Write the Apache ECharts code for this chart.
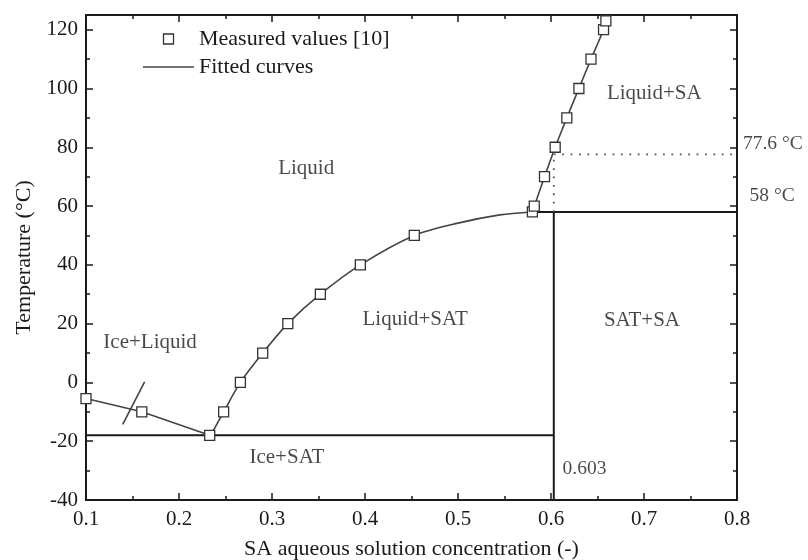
<!DOCTYPE html>
<html>
<head>
<meta charset="utf-8">
<script src="https://cdn.jsdelivr.net/npm/echarts@6/dist/echarts.min.js"></script>
<style>html,body{margin:0;padding:0;background:#fff}#c{width:808px;height:560px}</style>
</head>
<body>
<div id="c"></div>
<script>
// Measured values [10]
const measuredX = [0.1, 0.16, 0.233, 0.248, 0.266, 0.29, 0.317, 0.352, 0.395, 0.453, 0.58, 0.582, 0.593, 0.6045, 0.617, 0.63, 0.643, 0.6565, 0.659];
const measuredT = [-5.5, -10, -18, -10, 0, 10, 20, 30, 40, 50, 58, 60, 70, 80, 90, 100, 110, 120, 123];
// Fitted curves
const iceCurveX = [0.1, 0.16, 0.233];
const iceCurveT = [-5.5, -10, -18];
const satCurveX = [0.235, 0.248, 0.266, 0.29, 0.317, 0.352, 0.395, 0.453, 0.5, 0.545, 0.58];
const satCurveT = [-17.5, -10, 0, 10, 20, 30, 40, 50, 54.2, 57, 58];
const saCurveX = [0.58, 0.593, 0.6045, 0.617, 0.63, 0.643, 0.6565, 0.661];
const saCurveT = [58, 70, 80, 90, 100, 110, 120, 125];
const slashX = [0.1395, 0.163];
const slashT = [-14.3, 0.2];
// Phase boundaries
const eutecticX = [0.1, 0.603];
const eutecticT = [-18, -18];
const satLineX = [0.603, 0.603];
const satLineT = [-40, 58];
const periX = [0.58, 0.8];
const periT = [58, 58];
const dotHX = [0.603, 0.8];
const dotHT = [77.6, 77.6];
const dotVX = [0.603, 0.603];
const dotVT = [58, 77.6];
// Region labels
const regionNames = ['Liquid', 'Liquid+SA', 'Liquid+SAT', 'SAT+SA', 'Ice+Liquid', 'Ice+SAT'];
const regionX = [0.3367, 0.711, 0.4539, 0.6978, 0.1689, 0.316];
const regionT = [72.9, 98.3, 21.5, 21.2, 13.5, -25.5];
const noteNames = ['0.603', '77.6 °C', '58 °C'];
const noteX = [0.6124, 0.8064, 0.8135];
const noteT = [-29.4, 81.3, 63.4];
// Axes
const xMin = 0.1, xMax = 0.8, xStep = 0.1;
const yMin = -40, yMax = 125, yStep = 20, yMinorStep = 10;

const zip = (a, b) => a.map((v, i) => [v, b[i]]);
const FONT = 'Liberation Serif';
const INK = '#1a1a1a';

const chart = echarts.init(document.getElementById('c'), null, {renderer: 'canvas'});

function xAx(pos, labels) {
  return {
    type: 'value', position: pos, min: xMin, max: xMax, interval: xStep,
    axisLine: {show: true, onZero: false, lineStyle: {color: INK, width: 2}},
    axisTick: {show: true, inside: true, length: 7, lineStyle: {color: INK, width: 1.5}},
    minorTick: {show: true, splitNumber: 2, length: 4, lineStyle: {color: INK, width: 1.5}},
    splitLine: {show: false},
    axisLabel: {show: labels, margin: 9, fontFamily: FONT, fontSize: 21, color: INK, formatter: v => v.toFixed(1)},
    name: labels ? 'SA aqueous solution concentration (-)' : '',
    nameLocation: 'middle', nameGap: 38,
    nameTextStyle: {fontFamily: FONT, fontSize: 22, color: INK}
  };
}
function yAx(pos, labels, line, step, len) {
  return {
    type: 'value', position: pos, min: yMin, max: yMax, interval: step,
    axisLine: {show: line, onZero: false, lineStyle: {color: INK, width: 2}},
    axisTick: {show: true, inside: true, length: len, lineStyle: {color: INK, width: 1.5}},
    splitLine: {show: false},
    axisLabel: {show: labels, margin: 8, fontFamily: FONT, fontSize: 21, color: INK,
      formatter: v => (v % 20 === 0 ? String(v) : '')},
    name: labels ? 'Temperature (°C)' : '',
    nameLocation: 'middle', nameGap: 51,
    nameTextStyle: {fontFamily: FONT, fontSize: 22, color: INK}
  };
}

const curveStyle = {color: '#444', width: 1.6};
const boundStyle = {color: INK, width: 2};
function lineSeries(name, xs, ts, style, smooth) {
  return {
    name: name, type: 'line', xAxisIndex: 0, yAxisIndex: 0,
    data: zip(xs, ts), symbol: 'none', showSymbol: false, smooth: smooth || false,
    lineStyle: style, itemStyle: {color: style.color}, silent: true, z: 2
  };
}

chart.setOption({
  animation: false,
  grid: {left: 86, right: 71, top: 15, bottom: 60, containLabel: false, outerBoundsMode: 'none'},
  legend: {
    left: 143, top: 28, padding: 0, orient: 'vertical', itemWidth: 51, itemHeight: 10, itemGap: 6,
    textStyle: {fontFamily: FONT, fontSize: 22, color: INK, lineHeight: 22},
    data: [
      {name: 'Measured values [10]', icon: 'path://M0,0H10V10H0Z',
        itemStyle: {color: '#fff', borderColor: '#333', borderWidth: 1.3}},
      {name: 'Fitted curves', icon: 'path://M0,0H51V1.6H0Z',
        itemStyle: {color: '#444', borderWidth: 0}}
    ]
  },
  xAxis: [xAx('bottom', true), xAx('top', false)],
  yAxis: [
    yAx('left', true, true, yStep, 7),
    yAx('left', false, false, yMinorStep, 4),
    yAx('right', false, true, yStep, 7),
    yAx('right', false, false, yMinorStep, 4)
  ],
  series: [
    lineSeries('Fitted curves', iceCurveX, iceCurveT, curveStyle, false),
    lineSeries('Fitted curves', satCurveX, satCurveT, curveStyle, 0.3),
    lineSeries('Fitted curves', saCurveX, saCurveT, curveStyle, 0.2),
    lineSeries('slash', slashX, slashT, curveStyle, false),
    lineSeries('eutectic', eutecticX, eutecticT, boundStyle, false),
    lineSeries('satline', satLineX, satLineT, boundStyle, false),
    lineSeries('peritectic', periX, periT, boundStyle, false),
    lineSeries('dotH', dotHX, dotHT, {color: '#555', width: 1.8, type: [1.8, 6.6]}, false),
    lineSeries('dotV', dotVX, dotVT, {color: '#555', width: 1.8, type: [1.8, 6.6]}, false),
    {
      name: 'Measured values [10]', type: 'scatter', xAxisIndex: 0, yAxisIndex: 0,
      data: zip(measuredX, measuredT), symbol: 'rect', symbolSize: 10,
      itemStyle: {color: '#fff', borderColor: '#333', borderWidth: 1.3, opacity: 1}, z: 5, silent: true
    },
    {
      name: 'regions', type: 'scatter', xAxisIndex: 0, yAxisIndex: 0, clip: false,
      data: regionNames.map((n, i) => ({name: n, value: [regionX[i], regionT[i]]})),
      symbolSize: 0, silent: true,
      label: {show: true, position: 'inside', formatter: p => p.name,
        fontFamily: FONT, fontSize: 21, color: INK, textBorderWidth: 0}
    },
    {
      name: 'notes', type: 'scatter', xAxisIndex: 0, yAxisIndex: 0, clip: false,
      data: noteNames.map((n, i) => ({name: n, value: [noteX[i], noteT[i]]})),
      symbolSize: 0, silent: true,
      label: {show: true, position: 'right', distance: 0, formatter: p => p.name,
        fontFamily: FONT, fontSize: 19.5, color: INK, textBorderWidth: 0}
    }
  ]
});
</script>
</body>
</html>
